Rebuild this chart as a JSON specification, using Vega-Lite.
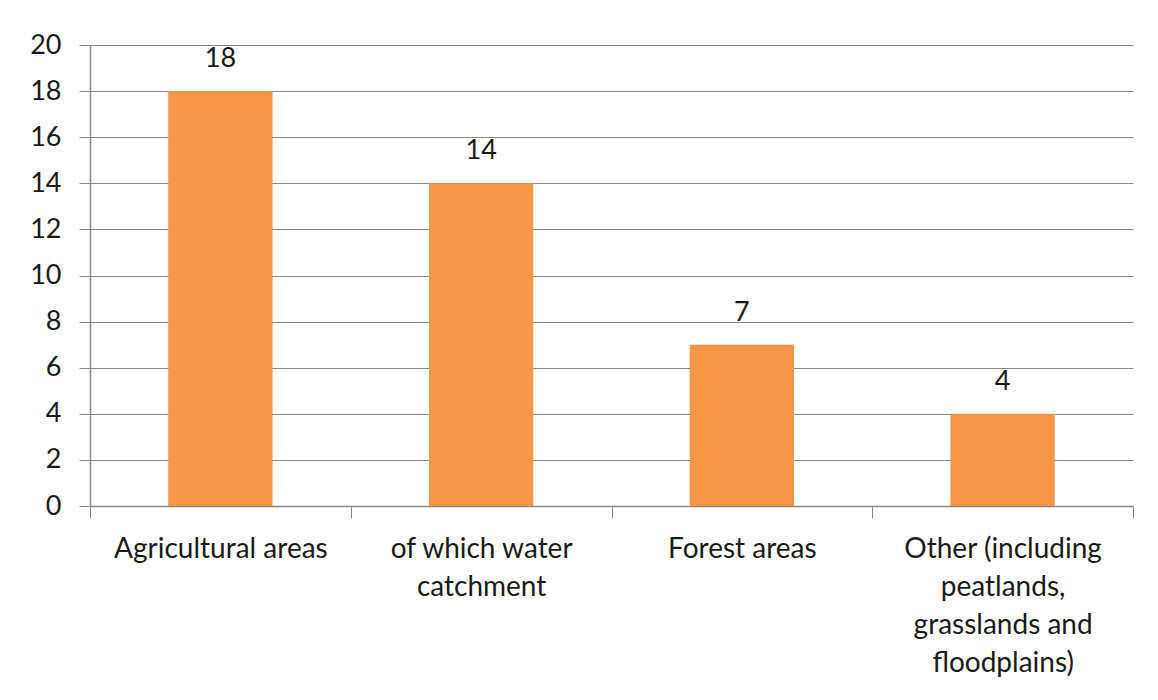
{
  "$schema": "https://vega.github.io/schema/vega-lite/v6.json",
  "width": 1043,
  "height": 461,
  "autosize": "none",
  "padding": {"left": 90, "top": 45, "right": 25, "bottom": 194},
  "background": "white",
  "data": {"values": [
    {"category": "Agricultural areas", "amount": 18},
    {"category": "of which water|catchment", "amount": 14},
    {"category": "Forest areas", "amount": 7},
    {"category": "Other (including|peatlands,|grasslands and|floodplains)", "amount": 4}
  ]},
  "layer": [
    {
      "mark": {"type": "bar", "color": "#F79646", "width": {"band": 0.4}},
      "encoding": {
        "x": {
          "field": "category", "type": "nominal", "sort": null,
          "scale": {"paddingInner": 0, "paddingOuter": 0},
          "axis": {
            "title": null, "labelAngle": 0, "tickBand": "extent",
            "labelExpr": "datum.value ? split(datum.value, '|') : ''",
            "labelFont": "Lato", "labelFontSize": 28, "labelColor": "#1a1a1a",
            "labelPadding": 17, "labelLineHeight": 38,
            "tickSize": 12, "tickColor": "#888888", "domainColor": "#888888",
            "labelLimit": 300
          }
        },
        "y": {
          "field": "amount", "type": "quantitative",
          "scale": {"domain": [0, 20]},
          "axis": {
            "title": null, "values": [0,2,4,6,8,10,12,14,16,18,20],
            "labelFont": "Lato", "labelFontSize": 27, "labelColor": "#1a1a1a",
            "labelPadding": 18, "tickSize": 11, "tickColor": "#888888",
            "domainColor": "#888888", "gridColor": "#888888", "grid": true
          }
        }
      }
    },
    {
      "mark": {"type": "text", "baseline": "bottom", "dy": -18, "font": "Lato", "fontSize": 27, "color": "#1a1a1a"},
      "encoding": {
        "x": {"field": "category", "type": "nominal", "sort": null},
        "y": {"field": "amount", "type": "quantitative"},
        "text": {"field": "amount", "type": "quantitative"}
      }
    }
  ],
  "config": {"view": {"stroke": null}, "axis": {"domainWidth": 1.5, "gridWidth": 1.2}}
}
